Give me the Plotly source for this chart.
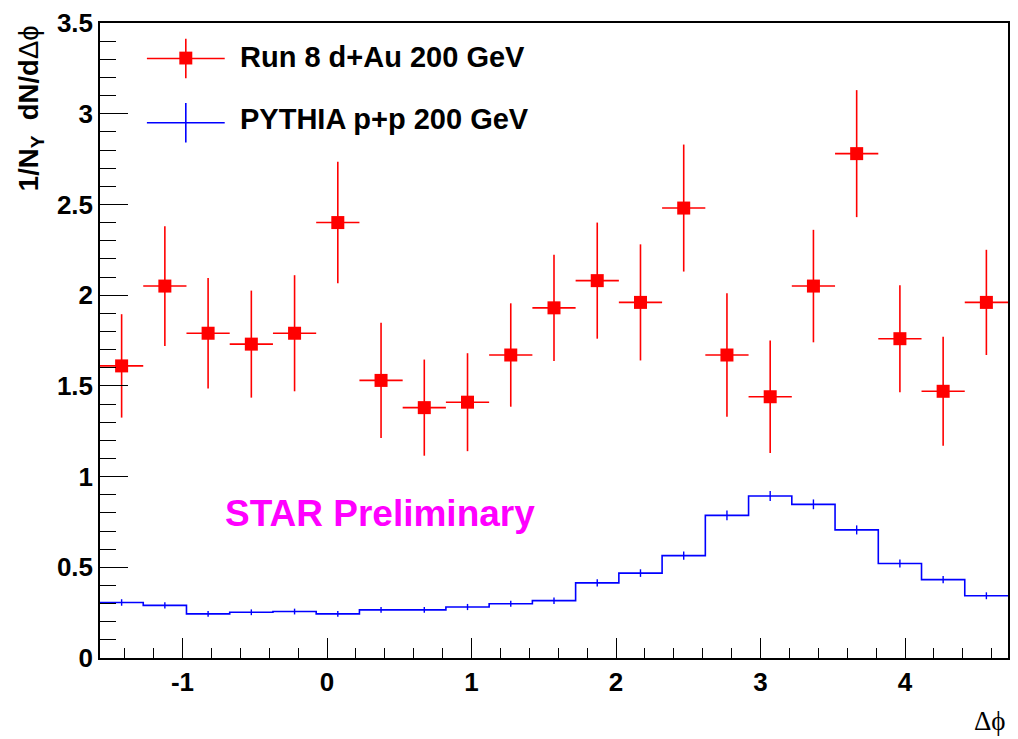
import numpy as np
import plotly.graph_objects as go

# ---- data ----
n_bins = 21
x_lo, x_hi = -np.pi / 2, 3 * np.pi / 2
edges = np.linspace(x_lo, x_hi, n_bins + 1)
centers = 0.5 * (edges[:-1] + edges[1:])
half_w = 0.5 * (edges[1] - edges[0])

dau_y = [1.61, 2.05, 1.79, 1.73, 1.79, 2.40, 1.53, 1.38, 1.41, 1.67, 1.93,
         2.08, 1.96, 2.48, 1.67, 1.44, 2.05, 2.78, 1.76, 1.47, 1.96]
dau_err = [0.285, 0.33, 0.305, 0.295, 0.32, 0.335, 0.318, 0.265, 0.27, 0.285, 0.293,
           0.32, 0.32, 0.35, 0.34, 0.31, 0.31, 0.35, 0.295, 0.30, 0.29]
pythia_y = [0.306, 0.290, 0.243, 0.252, 0.256, 0.243, 0.265, 0.265, 0.281, 0.299, 0.316,
            0.414, 0.468, 0.564, 0.786, 0.893, 0.847, 0.706, 0.521, 0.432, 0.343]
pythia_err = [0.018, 0.017, 0.016, 0.016, 0.016, 0.016, 0.016, 0.016, 0.017, 0.017, 0.018,
              0.020, 0.021, 0.023, 0.027, 0.028, 0.027, 0.025, 0.022, 0.020, 0.019]

x_tickvals = [-1, 0, 1, 2, 3, 4]
x_ticktext = ["-1", "0", "1", "2", "3", "4"]
y_tickvals = [0, 0.5, 1, 1.5, 2, 2.5, 3, 3.5]
y_ticktext = ["0", "0.5", "1", "1.5", "2", "2.5", "3", "3.5"]

label_dau = "Run 8 d+Au 200 GeV"
label_pythia = "PYTHIA p+p 200 GeV"

RED = "#ff0000"
BLUE = "#0000ff"
FONT = "Liberation Sans, Arial, sans-serif"
SERIF = "Liberation Serif, Times New Roman, serif"

fig = go.Figure()

# PYTHIA histogram (step line)
fig.add_trace(go.Scatter(
    x=list(edges), y=list(pythia_y) + [pythia_y[-1]],
    mode="lines", line=dict(color=BLUE, width=1.6, shape="hv"),
    showlegend=False, hoverinfo="skip"))
# PYTHIA error ticks
fig.add_trace(go.Scatter(
    x=list(centers), y=pythia_y, mode="markers",
    marker=dict(size=1, color=BLUE, opacity=0),
    error_y=dict(type="data", array=pythia_err, color=BLUE, thickness=1.4, width=0),
    showlegend=False))

# d+Au points
fig.add_trace(go.Scatter(
    x=list(centers), y=dau_y, mode="markers",
    marker=dict(symbol="square", size=13, color=RED, line=dict(width=0)),
    error_y=dict(type="data", array=dau_err, color=RED, thickness=1.6, width=0),
    error_x=dict(type="constant", value=half_w, color=RED, thickness=1.6, width=0),
    showlegend=False))

# ---- manual ROOT-like legend (paper coordinates) ----
L = 100.0; R = 1010.0; T = 15.0; B = 658.0
def px(x):
    return (x - L) / (R - L)
def py(y):
    return (B - y) / (B - T)

shapes = []
# red entry
shapes.append(dict(type="line", xref="paper", yref="paper", x0=px(147), x1=px(225), y0=py(51), y1=py(51),
                   line=dict(color=RED, width=1.6)))
shapes.append(dict(type="line", xref="paper", yref="paper", x0=px(186), x1=px(186), y0=py(31), y1=py(71),
                   line=dict(color=RED, width=1.6)))
shapes.append(dict(type="rect", xref="paper", yref="paper", x0=px(179.5), x1=px(192.5), y0=py(44), y1=py(57),
                   line=dict(width=0), fillcolor=RED))
# blue entry
shapes.append(dict(type="line", xref="paper", yref="paper", x0=px(147), x1=px(225), y0=py(116), y1=py(116),
                   line=dict(color=BLUE, width=1.6)))
shapes.append(dict(type="line", xref="paper", yref="paper", x0=px(186), x1=px(186), y0=py(96), y1=py(136),
                   line=dict(color=BLUE, width=1.6)))

annotations = [
    dict(text="<b>%s</b>" % label_dau, xref="paper", yref="paper", x=px(238), y=py(49),
         xanchor="left", yanchor="middle", showarrow=False,
         font=dict(family=FONT, size=29, color="black")),
    dict(text="<b>%s</b>" % label_pythia, xref="paper", yref="paper", x=px(238), y=py(112),
         xanchor="left", yanchor="middle", showarrow=False,
         font=dict(family=FONT, size=29, color="black")),
    dict(text="<b>STAR Preliminary</b>", xref="paper", yref="paper", x=px(223), y=py(512),
         xanchor="left", yanchor="middle", showarrow=False,
         font=dict(family=FONT, size=37, color="#ff00ff")),
    dict(text="<b>1/N<sub>Υ</sub>  dN/d</b>Δϕ", xref="paper", yref="paper", x=px(30), y=1.0,
         xanchor="center", yanchor="top", textangle=-90, showarrow=False,
         font=dict(family=FONT, size=27.5, color="black")),
    dict(text="Δϕ", xref="paper", yref="paper", x=1.0, y=py(722),
         xanchor="right", yanchor="middle", showarrow=False,
         font=dict(family=SERIF, size=27, color="black")),
]

axis_common = dict(
    showline=True, linecolor="black", linewidth=1.5, mirror=True,
    showgrid=False, zeroline=False,
    ticks="inside", tickcolor="black", tickwidth=1.2,
    tickfont=dict(family=FONT, size=26, color="black", weight="bold"),
)

fig.update_layout(
    width=1018, height=739,
    margin=dict(l=100, r=8, t=15, b=81),
    paper_bgcolor="white", plot_bgcolor="white",
    showlegend=False,
    shapes=shapes, annotations=annotations,
    xaxis=dict(range=[x_lo, x_hi], tickvals=x_tickvals, ticktext=x_ticktext, ticklen=20,
               minor=dict(ticks="inside", ticklen=10, dtick=0.2, tick0=0, tickcolor="black", tickwidth=1.2),
               **axis_common),
    yaxis=dict(range=[0, 3.5], tickvals=y_tickvals, ticktext=y_ticktext, ticklen=28,
               minor=dict(ticks="inside", ticklen=16, dtick=0.1, tick0=0, tickcolor="black", tickwidth=1.2),
               **axis_common),
)

fig.write_html("out.html")
